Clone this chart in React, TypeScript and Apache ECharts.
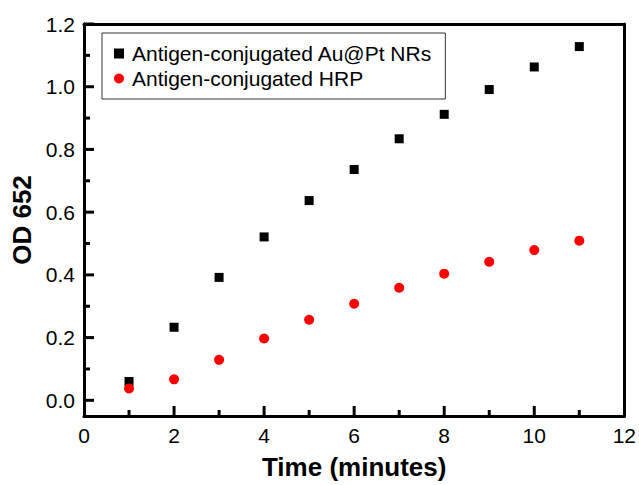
import React, { useEffect, useRef } from "react";
import * as echarts from "echarts";

const timeMinutes = [1, 2, 3, 4, 5, 6, 7, 8, 9, 10, 11];
const auptValues = [0.06, 0.233, 0.392, 0.521, 0.637, 0.736, 0.834, 0.912, 0.991, 1.063, 1.128];
const hrpValues = [0.038, 0.067, 0.129, 0.197, 0.257, 0.308, 0.359, 0.404, 0.442, 0.479, 0.509];
const seriesNames = ["Antigen-conjugated Au@Pt NRs", "Antigen-conjugated HRP"];
const xMajorTicks = [0, 2, 4, 6, 8, 10, 12];
const xMinorTicks = [1, 3, 5, 7, 9, 11];
const yMajorTicks = [0, 0.2, 0.4, 0.6, 0.8, 1.0, 1.2];
const yMinorTicks = [0.1, 0.3, 0.5, 0.7, 0.9, 1.1];
const xTitle = "Time (minutes)";
const yTitle = "OD 652";

const FONT = "'Liberation Sans', Arial, sans-serif";
const X_MIN = 0;
const X_MAX = 12;
const Y_MIN = -0.05;
const Y_MAX = 1.2;

export default function App() {
  const ref = useRef<HTMLDivElement>(null);
  useEffect(() => {
    if (!ref.current) return;
    const chart = echarts.init(ref.current, null, { renderer: "svg" });
    const pair = (vals: number[]) => timeMinutes.map((t, i) => [t, vals[i]]);

    const xTickSeries = (values: number[], len: number) => ({
      type: "custom",
      silent: true,
      clip: false,
      z: 5,
      data: values.map((v) => [v, Y_MIN]),
      renderItem: (_params: any, api: any) => {
        const p = api.coord([api.value(0), api.value(1)]);
        return {
          type: "line",
          shape: { x1: p[0], y1: p[1], x2: p[0], y2: p[1] - len },
          style: { stroke: "#000", lineWidth: 3 },
        };
      },
    });
    const yTickSeries = (values: number[], len: number) => ({
      type: "custom",
      silent: true,
      clip: false,
      z: 5,
      data: values.map((v) => [X_MIN, v]),
      renderItem: (_params: any, api: any) => {
        const p = api.coord([api.value(0), api.value(1)]);
        return {
          type: "line",
          shape: { x1: p[0], y1: p[1], x2: p[0] + len, y2: p[1] },
          style: { stroke: "#000", lineWidth: 3 },
        };
      },
    });

    chart.setOption({
      animation: false,
      backgroundColor: "#ffffff",
      textStyle: { fontFamily: FONT },
      grid: {
        left: 84,
        right: 12,
        top: 24,
        bottom: 66,
        show: false,
      },
      legend: {
        orient: "vertical",
        left: 102,
        top: 33,
        padding: [10, 13, 10, 12],
        borderColor: "#333",
        borderWidth: 1,
        backgroundColor: "#fff",
        itemWidth: 10,
        itemHeight: 10,
        itemGap: 4,
        textStyle: { fontSize: 21, color: "#000", fontFamily: FONT, padding: [0, 0, 0, 3] },
        data: [
          { name: seriesNames[0], icon: "rect" },
          { name: seriesNames[1], icon: "circle" },
        ],
      },
      xAxis: [
        {
          type: "value",
          min: X_MIN,
          max: X_MAX,
          position: "bottom",
          name: xTitle,
          nameLocation: "middle",
          nameGap: 38,
          nameTextStyle: { fontSize: 26, fontWeight: "bold", color: "#000", fontFamily: FONT },
          axisLine: { show: true, onZero: false, lineStyle: { color: "#000", width: 3 } },
          axisTick: { show: false },
          axisLabel: {
            fontSize: 21,
            color: "#000",
            margin: 9,
            fontFamily: FONT,
            customValues: xMajorTicks,
          },
          splitLine: { show: false },
        },
        {
          type: "value",
          min: X_MIN,
          max: X_MAX,
          position: "top",
          axisLine: { show: true, onZero: false, lineStyle: { color: "#000", width: 3 } },
          axisTick: { show: false },
          axisLabel: { show: false },
          splitLine: { show: false },
        },
      ],
      yAxis: [
        {
          type: "value",
          min: Y_MIN,
          max: Y_MAX,
          position: "left",
          name: yTitle,
          nameLocation: "middle",
          nameGap: 48,
          nameTextStyle: { fontSize: 26, fontWeight: "bold", color: "#000", fontFamily: FONT },
          axisLine: { show: true, onZero: false, lineStyle: { color: "#000", width: 3 } },
          axisTick: { show: false },
          axisLabel: {
            fontSize: 21,
            color: "#000",
            margin: 9,
            fontFamily: FONT,
            customValues: yMajorTicks,
            formatter: (v: number) => v.toFixed(1),
          },
          splitLine: { show: false },
        },
        {
          type: "value",
          min: Y_MIN,
          max: Y_MAX,
          position: "right",
          axisLine: { show: true, onZero: false, lineStyle: { color: "#000", width: 3 } },
          axisTick: { show: false },
          axisLabel: { show: false },
          splitLine: { show: false },
        },
      ],
      series: [
        xTickSeries(xMajorTicks.slice(1, -1), 10),
        xTickSeries(xMinorTicks, 6),
        yTickSeries(yMajorTicks, 10),
        yTickSeries(yMinorTicks, 6),
        {
          name: seriesNames[0],
          type: "scatter",
          symbol: "rect",
          symbolSize: 9,
          itemStyle: { color: "#000", opacity: 1 },
          data: pair(auptValues),
          z: 3,
        },
        {
          name: seriesNames[1],
          type: "scatter",
          symbol: "circle",
          symbolSize: 10,
          itemStyle: { color: "#ff0000", opacity: 1 },
          data: pair(hrpValues),
          z: 4,
        },
      ],
    });
    return () => chart.dispose();
  }, []);
  return (
    <div
      ref={ref}
      style={{ position: "fixed", left: 0, top: 0, width: 639, height: 485 }}
    />
  );
}
